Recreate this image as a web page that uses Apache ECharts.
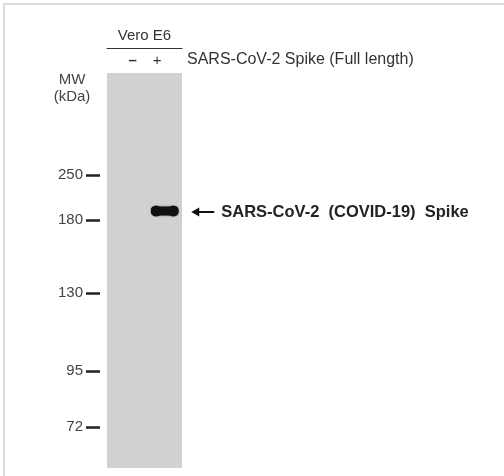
<!DOCTYPE html>
<html>
<head>
<meta charset="utf-8">
<script src="https://cdn.jsdelivr.net/npm/echarts@6/dist/echarts.min.js"></script>
<style>
  html, body { margin: 0; padding: 0; background: #fff; }
  #chart { width: 504px; height: 476px; }
</style>
</head>
<body>
<div id="chart"></div>
<script>
// lanes of the blot (Vero E6 cells, without / with spike)
const lanes = ['–', '+']
// molecular weight ladder, position = migration from top of gel
const mwLabels = ['250', '180', '130', '95', '72']
const mwPositions = [102, 147, 220, 298, 354]
// detected band
const bandLane = '+'
const bandPosition = 138
const bandName = 'SARS-CoV-2  (COVID-19)  Spike'

const font = '"Liberation Sans", Arial, sans-serif'

const chart = echarts.init(document.getElementById('chart'))

const option = {
  backgroundColor: '#fff',
  animation: false,
  grid: {
    left: 107,
    top: 73,
    width: 75,
    height: 395,
    show: true,
    backgroundColor: '#d1d1d1',
    borderWidth: 0
  },
  xAxis: {
    type: 'category',
    data: lanes,
    position: 'top',
    offset: 25,
    axisLine: { show: true, onZero: false, lineStyle: { color: '#333', width: 1.2 } },
    axisTick: { show: false },
    axisLabel: {
      inside: true,
      interval: 0,
      margin: 5,
      fontFamily: font,
      fontSize: 15,
      color: '#333',
      formatter: (v, i) => (i === 0 ? '{a|' + v + '}' : '{b|' + v + '}'),
      rich: {
        a: { padding: [0, 0, 0, 14], fontSize: 15, fontWeight: 'bold', color: '#333' },
        b: { padding: [0, 12, 0, 0], fontSize: 15, color: '#333' }
      }
    },
    name: 'Vero E6',
    nameLocation: 'middle',
    nameGap: 2,
    nameTextStyle: { fontFamily: font, fontSize: 15, color: '#333' },
    splitLine: { show: false }
  },
  yAxis: {
    type: 'value',
    inverse: true,
    min: 0,
    max: 395,
    offset: 7,
    axisLine: { show: false },
    splitLine: { show: false },
    axisTick: {
      show: true,
      customValues: mwPositions,
      length: 14,
      lineStyle: { color: '#222', width: 2.5 }
    },
    axisLabel: {
      customValues: mwPositions,
      margin: 17,
      fontFamily: font,
      fontSize: 15,
      color: '#444',
      formatter: v => mwLabels[mwPositions.indexOf(v)]
    }
  },
  graphic: [
    { type: 'line', shape: { x1: 3, y1: 4, x2: 504, y2: 4 }, style: { stroke: '#dcdcdc', lineWidth: 2 } },
    { type: 'line', shape: { x1: 4, y1: 3, x2: 4, y2: 476 }, style: { stroke: '#dcdcdc', lineWidth: 2 } },
    {
      type: 'text', left: 187, top: 52,
      style: { text: 'SARS-CoV-2 Spike (Full length)', font: '16px ' + font, fill: '#333' }
    },
    {
      type: 'text', x: 72, y: 71,
      style: { text: 'MW\n(kDa)', font: '15px ' + font, fill: '#444', align: 'center', lineHeight: 17 }
    }
  ],
  series: [{
    type: 'custom',
    clip: false,
    data: [[bandLane, bandPosition]],
    renderItem (params, api) {
      const c = api.coord([api.value(0), api.value(1)])
      const w = api.size([1, 0])[0] * 0.72
      const h = 9
      const cx = c[0] + 1.5
      const right = cx + w / 2
      const tip = right + 13
      const ty = c[1] + 1
      return {
        type: 'group',
        children: [
          { type: 'rect', shape: { x: cx - w / 2, y: c[1] - h / 2, width: w, height: h, r: 3 }, style: { fill: '#111', shadowBlur: 2, shadowColor: 'rgba(0,0,0,0.5)' } },
          { type: 'circle', shape: { cx: cx - w / 2 + 5, cy: c[1], r: 5.5 }, style: { fill: '#111' } },
          { type: 'circle', shape: { cx: right - 5, cy: c[1], r: 5.5 }, style: { fill: '#111' } },
          { type: 'line', shape: { x1: tip + 6, y1: ty, x2: tip + 23, y2: ty }, style: { stroke: '#111', lineWidth: 2 } },
          { type: 'polygon', shape: { points: [[tip, ty], [tip + 8, ty - 4.5], [tip + 8, ty + 4.5]] }, style: { fill: '#111' } },
          { type: 'text', style: { text: bandName, x: tip + 30, y: ty, font: 'bold 16.5px ' + font, fill: '#222', verticalAlign: 'middle', align: 'left' } }
        ]
      }
    }
  }]
}

chart.setOption(option)
</script>
</body>
</html>
